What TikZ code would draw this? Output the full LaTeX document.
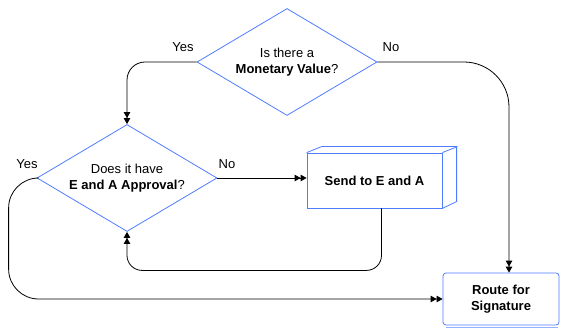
\documentclass[tikz,border=0pt]{standalone}
\usepackage{fontspec}
\setmainfont{Liberation Sans}
\usetikzlibrary{shapes.geometric,arrows.meta}
\definecolor{flowblue}{RGB}{80,125,255}

\begin{document}
\begin{tikzpicture}[x=1pt,y=-1pt, line width=0.8pt,
    font=\fontsize{13}{16.5}\selectfont,
    decision/.style={draw=flowblue, diamond, aspect=1.7, inner sep=0pt,
      minimum width=180pt, minimum height=107pt, align=center},
    process/.style={draw=flowblue, rectangle, minimum width=135pt,
      minimum height=55pt, align=center, font=\fontsize{13}{16.5}\selectfont\bfseries},
    flow/.style={draw, -{Triangle[length=6pt,width=6.5pt]Triangle[length=6pt,width=6.5pt]}}]
  \useasboundingbox (0,0) rectangle (561,328);

  % Decisions
  \node[decision] (monetary) at (287,62) {Is there a\\\textbf{Monetary Value}?};
  \node[decision] (approval) at (127,178) {Does it have\\\textbf{E and A Approval}?};

  % Send box (cube)
  \node[process] (send) at (374.5,180.5) {Send to E and A};
  \draw[flowblue] (send.north west) -- ++(15,-6) -- ++(135,0) -- ++(0,55) -- (send.south east)
    (send.north east) -- ++(15,-6);

  % Route box
  \node[process, rounded corners=3pt, minimum width=116pt, minimum height=52pt] (route) at (501,299) {Route for\\Signature};
  \draw[flowblue!60, line width=1.5pt] ([xshift=3pt,yshift=-2pt]route.south west) -- ([xshift=-1pt,yshift=-2pt]route.south east);

  % Connectors
  \draw[flow, rounded corners=18pt] (monetary.west) -| (approval.north);
  \draw[flow, rounded corners=45pt] (monetary.east) -| ([xshift=8pt]route.north);
  \draw[flow] (approval.east) -- (send.west |- approval.east);
  \draw[flow, rounded corners=15pt] ([xshift=7pt]send.south) -- ++(0,62) -| (approval.south);
  \draw[flow, rounded corners=30pt] (approval.west) -- ++(-28,0) |- (route.west);

  % Labels
  \node (yes1) at (183,47) {Yes};
  \node (no1) at (391,47) {No};
  \node (no2) at (227,164) {No};
  \node (yes2) at (27,164) {Yes};
\end{tikzpicture}
\end{document}
